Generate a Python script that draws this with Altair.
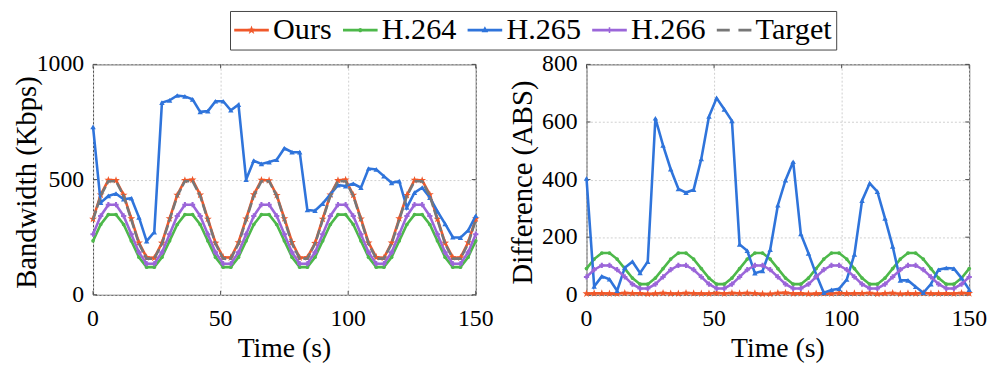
import altair as alt
import pandas as pd

FONT = "Liberation Serif"

times = list(range(0, 151, 3))

methods = ["Ours", "H.264", "H.265", "H.266", "Target"]
colors = ["#F0582A", "#4DB84A", "#2F74DB", "#9B66D9", "#777777"]

x_ticks = [0, 50, 100, 150]
bw_ticks = [0, 500, 1000]
diff_ticks = [0, 200, 400, 600, 800]

target = [325, 429, 493, 493, 429, 325, 221, 157, 157, 221,
          325, 429, 493, 493, 429, 325, 221, 157, 157, 221,
          325, 429, 493, 493, 429, 325, 221, 157, 157, 221,
          325, 429, 493, 493, 429, 325, 221, 157, 157, 221,
          325, 429, 493, 493, 429, 325, 221, 157, 157, 221,
          325]
ours = [329, 434, 498, 497, 433, 331, 226, 162, 160, 225,
        331, 433, 497, 499, 434, 329, 225, 163, 161, 227,
        330, 435, 498, 496, 432, 331, 228, 161, 162, 224,
        329, 434, 497, 499, 433, 330, 226, 163, 160, 226,
        331, 432, 498, 497, 435, 329, 225, 162, 161, 227,
        330]
h264 = [234, 305, 348, 348, 305, 234, 163, 120, 120, 163,
        234, 305, 348, 348, 305, 234, 163, 120, 120, 163,
        234, 305, 348, 348, 305, 234, 163, 120, 120, 163,
        234, 305, 348, 348, 305, 234, 163, 120, 120, 163,
        234, 305, 348, 348, 305, 234, 163, 120, 120, 163,
        234]
h265 = [729, 400, 429, 439, 415, 419, 336, 233, 272, 834,
        844, 865, 861, 848, 794, 797, 840, 840, 801, 825,
        500, 582, 568, 576, 586, 636, 619, 619, 368, 365,
        396, 436, 476, 472, 482, 465, 548, 544, 515, 486,
        493, 379, 443, 465, 422, 362, 308, 250, 248, 279,
        343]
h266 = [263, 342, 391, 391, 342, 263, 184, 135, 135, 184,
        263, 342, 391, 391, 342, 263, 184, 135, 135, 184,
        263, 342, 391, 391, 342, 263, 184, 135, 135, 184,
        263, 342, 391, 391, 342, 263, 184, 135, 135, 184,
        263, 342, 391, 391, 342, 263, 184, 135, 135, 184,
        263]

series = {"Ours": ours, "H.264": h264, "H.265": h265, "H.266": h266, "Target": target}

rows_bw = []
for name in methods:
    for t, v in zip(times, series[name]):
        rows_bw.append({"t": t, "v": v, "Method": name, "Label": name})
bw = pd.DataFrame(rows_bw)

rows_diff = []
for name in ["Ours", "H.264", "H.265", "H.266"]:
    for t, v, g in zip(times, series[name], target):
        rows_diff.append({"t": t, "v": abs(v - g), "Method": name})
diff = pd.DataFrame(rows_diff)

STAR = ("M0,-1L0.235,-0.324L0.951,-0.309L0.38,0.124L0.588,0.809L0,0.4"
        "L-0.588,0.809L-0.38,0.124L-0.951,-0.309L-0.235,-0.324Z")
marker = {
    "Ours": (STAR, 70),
    "H.264": ("circle", 14),
    "H.265": ("triangle-up", 30),
    "H.266": ("cross", 28),
}
color_of = dict(zip(methods, colors))

LINE = "M-1.1667,-0.0875H1.1667V0.0875H-1.1667Z"
leg_paths = [
    LINE + "M0,-0.315L0.0741,-0.1021L0.2998,-0.0968L0.1197,0.0391L0.1855,0.2543L0,0.126"
           "L-0.1855,0.2543L-0.1197,0.0391L-0.2998,-0.0968L-0.0741,-0.1021Z",
    LINE + "M0.14,0A0.14,0.14 0 1,1 -0.14,0A0.14,0.14 0 1,1 0.14,0Z",
    LINE + "M0,-0.257L0.222,0.14L-0.222,0.14Z",
    LINE + "M-0.0525,-0.198H0.0525V0.198H-0.0525Z",
    "M-1.1667,-0.0875H-0.2917V0.0875H-1.1667Z M0.2917,-0.0875H1.1667V0.0875H0.2917Z",
]

W, H = 387, 233
FRAME = "#4a4a4a"


def panel(df, names, ydomain, yvalues, ytitle, ytitle_x, with_legend):
    x = alt.X("t:Q", scale=alt.Scale(domain=[0, 150], nice=False),
              axis=alt.Axis(values=x_ticks, labels=False, title=None))
    y = alt.Y("v:Q", scale=alt.Scale(domain=ydomain, nice=False),
              axis=alt.Axis(values=yvalues, labels=False, title=None))
    layers = []

    # inward tick marks on all four sides
    xt = pd.DataFrame({"t": x_ticks, "lab": [str(v) for v in x_ticks]})
    yt = pd.DataFrame({"v": yvalues, "lab": [str(v) for v in yvalues]})
    layers.append(alt.Chart(xt).mark_rule(color=FRAME, strokeWidth=1).encode(
        x=alt.X("t:Q"), y=alt.value(H), y2=alt.value(H - 4)))
    layers.append(alt.Chart(xt).mark_rule(color=FRAME, strokeWidth=1).encode(
        x=alt.X("t:Q"), y=alt.value(0), y2=alt.value(4)))
    layers.append(alt.Chart(yt).mark_rule(color=FRAME, strokeWidth=1).encode(
        y=alt.Y("v:Q"), x=alt.value(0), x2=alt.value(4)))
    layers.append(alt.Chart(yt).mark_rule(color=FRAME, strokeWidth=1).encode(
        y=alt.Y("v:Q"), x=alt.value(W - 4), x2=alt.value(W)))

    for name in names:
        sub = alt.Chart(df).transform_filter(alt.datum.Method == name)
        if name == "Target":
            layers.append(sub.mark_line(color=color_of[name], strokeWidth=2.6,
                                        strokeDash=[10, 3]).encode(x=x, y=y))
        else:
            layers.append(sub.mark_line(color=color_of[name], strokeWidth=2.6).encode(x=x, y=y))
            shp, sz = marker[name]
            layers.append(sub.mark_point(filled=True, opacity=1, color=color_of[name],
                                         shape=shp, size=sz).encode(x=x, y=y))

    # tick labels and titles
    layers.append(alt.Chart(xt).mark_text(font=FONT, fontSize=24, align="center",
                                          baseline="alphabetic", color="black").encode(
        x=alt.X("t:Q"), y=alt.value(H + 32), text="lab:N"))
    layers.append(alt.Chart(yt).mark_text(font=FONT, fontSize=24, align="right",
                                          baseline="middle", color="black").encode(
        x=alt.value(-9), y=alt.Y("v:Q"), text="lab:N"))
    layers.append(alt.Chart(pd.DataFrame({"lab": ["Time (s)"]})).mark_text(
        font=FONT, fontSize=28, align="center", baseline="alphabetic", color="black").encode(
        x=alt.value(W / 2), y=alt.value(H + 63), text="lab:N"))
    layers.append(alt.Chart(pd.DataFrame({"lab": [ytitle]})).mark_text(
        font=FONT, fontSize=29, align="center", baseline="alphabetic", angle=270,
        color="black").encode(
        x=alt.value(ytitle_x), y=alt.value(H / 2 + 3), text="lab:N"))

    if with_legend:
        leg = alt.Legend(orient="none", legendX=138.5, legendY=-54, direction="horizontal",
                         title=None, labelFont=FONT, labelFontSize=30.5,
                         labelColor="black", symbolSize=900, symbolStrokeWidth=0,
                         symbolOffset=2.5, symbolOpacity=1, labelOffset=6.5,
                         columnPadding=11, padding=4,
                         strokeColor="#444444", fillColor="white", labelLimit=400)
        layers.append(
            alt.Chart(df).mark_point(filled=True, opacity=1).encode(
                x=x, y=y,
                color=alt.Color("Label:N", scale=alt.Scale(domain=methods, range=colors), legend=leg),
                shape=alt.Shape("Label:N", scale=alt.Scale(domain=methods, range=leg_paths), legend=leg),
            ).transform_filter("false")
        )
    return alt.layer(*layers).properties(width=W, height=H)


left = panel(bw, methods, [0, 1000], bw_ticks, "Bandwidth (Kbps)", -58, True)
right = panel(diff, ["Ours", "H.264", "H.265", "H.266"], [0, 800],
              diff_ticks, "Difference (ABS)", -55, False)

chart = alt.hconcat(left, right, spacing=14).properties(
    padding={"left": 4, "top": 0, "right": 0, "bottom": 0}
).configure(
    font=FONT,
).configure_axis(
    domain=False, ticks=False, tickSize=0, grid=True, gridColor="#cfcfcf",
    gridDash=[2, 2], gridWidth=1, labels=False,
).configure_legend(labelFont=FONT).configure_view(stroke=FRAME, strokeWidth=1)

chart.save("out.html", embed_options={"renderer": "svg", "actions": False})
